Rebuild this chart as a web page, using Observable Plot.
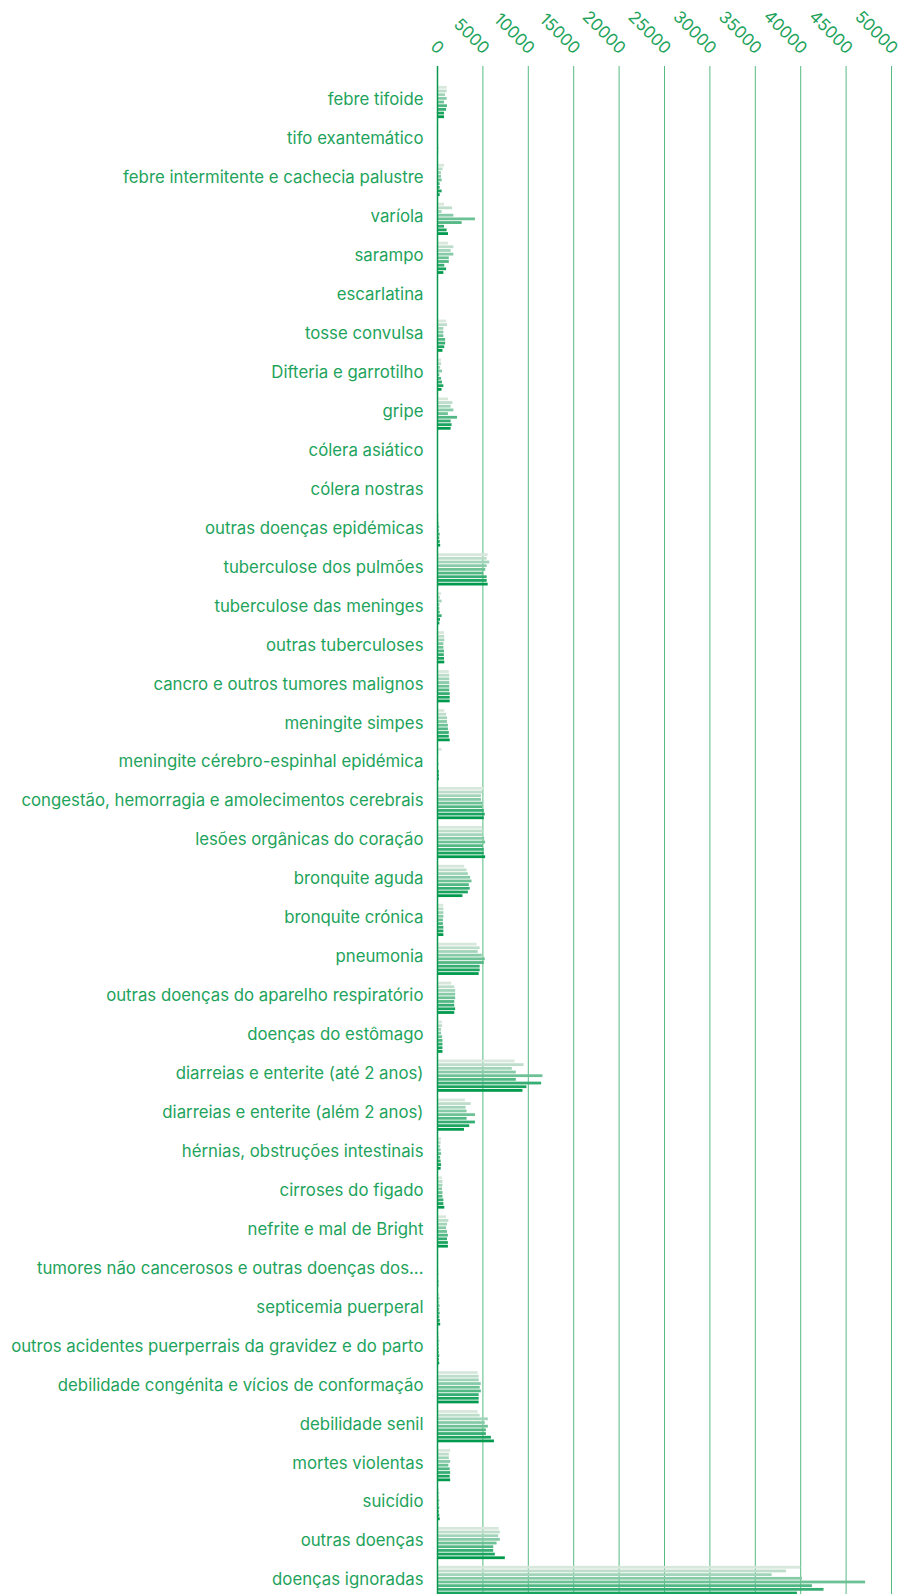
<!DOCTYPE html>
<html><head><meta charset="utf-8">
<script src="https://cdn.jsdelivr.net/npm/d3@7"></script>
<script src="https://cdn.jsdelivr.net/npm/@observablehq/plot@0.6"></script>
<style>body{margin:0;background:#fff;} #chart{width:901px}</style>
</head><body><div id="chart"></div>
<script>
const causes = [
  "febre tifoide",
  "tifo exantemático",
  "febre intermitente e cachecia palustre",
  "varíola",
  "sarampo",
  "escarlatina",
  "tosse convulsa",
  "Difteria e garrotilho",
  "gripe",
  "cólera asiático",
  "cólera nostras",
  "outras doenças epidémicas",
  "tuberculose dos pulmões",
  "tuberculose das meninges",
  "outras tuberculoses",
  "cancro e outros tumores malignos",
  "meningite simpes",
  "meningite cérebro-espinhal epidémica",
  "congestão, hemorragia e amolecimentos cerebrais",
  "lesões orgânicas do coração",
  "bronquite aguda",
  "bronquite crónica",
  "pneumonia",
  "outras doenças do aparelho respiratório",
  "doenças do estômago",
  "diarreias e enterite (até 2 anos)",
  "diarreias e enterite (além 2 anos)",
  "hérnias, obstruções intestinais",
  "cirroses do figado",
  "nefrite e mal de Bright",
  "tumores não cancerosos e outras doenças dos...",
  "septicemia puerperal",
  "outros acidentes puerperrais da gravidez e do parto",
  "debilidade congénita e vícios de conformação",
  "debilidade senil",
  "mortes violentas",
  "suicídio",
  "outras doenças",
  "doenças ignoradas"
];

const years = ["1902", "1903", "1904", "1905", "1906", "1907", "1908", "1909", "1910"];

// one row per cause, one value per year (same order as years)
const deathsByCause = [
  [1060, 1060, 880, 1060, 770, 1100, 1000, 770, 770],
  [150, 120, 100, 100, 100, 120, 130, 120, 100],
  [770, 620, 440, 440, 510, 290, 290, 510, 290],
  [770, 1650, 510, 1800, 4180, 2710, 770, 1060, 1210],
  [1200, 1800, 1500, 1800, 1300, 1300, 800, 1000, 700],
  [80, 60, 50, 80, 60, 50, 80, 60, 50],
  [1000, 1100, 700, 700, 700, 900, 900, 800, 600],
  [450, 450, 350, 550, 250, 450, 550, 700, 500],
  [1200, 1700, 1500, 1800, 1200, 2200, 1500, 1600, 1500],
  [0, 0, 0, 0, 0, 0, 0, 0, 0],
  [0, 0, 0, 0, 0, 0, 0, 0, 0],
  [200, 150, 200, 250, 200, 300, 250, 300, 350],
  [5580, 5470, 5760, 5470, 5320, 5100, 5470, 5470, 5580],
  [440, 330, 510, 260, 260, 300, 510, 330, 260],
  [770, 800, 800, 700, 700, 770, 750, 770, 800],
  [1300, 1350, 1350, 1350, 1350, 1350, 1400, 1400, 1400],
  [800, 1000, 1100, 1100, 1200, 1200, 1300, 1300, 1400],
  [500, 150, 100, 100, 150, 100, 200, 200, 200],
  [5100, 4980, 4840, 4840, 4980, 4980, 5150, 5250, 5150],
  [4950, 5050, 4950, 5200, 5300, 5050, 5150, 5150, 5300],
  [3000, 3250, 3400, 3650, 3800, 3500, 3600, 3400, 2800],
  [700, 700, 700, 700, 650, 650, 700, 700, 700],
  [4370, 4700, 4480, 4930, 5260, 5150, 4700, 4700, 4590],
  [1570, 1900, 2000, 2000, 2000, 1900, 1900, 2000, 1900],
  [560, 560, 450, 450, 560, 600, 600, 600, 600],
  [8540, 9530, 8240, 8680, 11610, 8680, 11470, 9850, 9410],
  [3080, 3700, 3150, 3260, 4180, 3260, 4180, 3550, 2970],
  [450, 400, 350, 400, 450, 350, 400, 450, 400],
  [550, 600, 600, 550, 600, 600, 700, 700, 800],
  [1000, 1250, 1100, 1000, 1100, 1200, 1100, 1200, 1200],
  [150, 120, 130, 120, 130, 140, 120, 150, 150],
  [250, 300, 250, 300, 250, 300, 250, 300, 350],
  [200, 200, 250, 200, 200, 200, 250, 200, 250],
  [4480, 4590, 4590, 4820, 4700, 4820, 4590, 4590, 4590],
  [4480, 4700, 5600, 5260, 5600, 5380, 5380, 5940, 6270],
  [1450, 1300, 1300, 1450, 1250, 1400, 1450, 1400, 1450],
  [200, 250, 200, 250, 200, 250, 200, 250, 300],
  [6800, 6920, 6740, 6920, 6560, 6190, 6190, 6370, 7470],
  [40000, 38430, 36850, 40190, 47150, 41290, 42570, 39640, 41000]
];

const xTicks = [0, 5000, 10000, 15000, 20000, 25000, 30000, 35000, 40000, 45000, 50000];

const data = causes.flatMap((cause, i) =>
  years.map((year, j) => ({cause, year, value: deathsByCause[i][j]}))
);

const width = 901, height = 1628;
const marginTop = 66, marginBottom = 10, marginLeft = 437, marginRight = 10;
const textColor = "#1ea35c";
const gridColor = "#55bb83";
const axisColor = "#08974c";
const fontSize = 16.8;

const yOpts = {domain: causes, paddingInner: 0.15, paddingOuter: 0.5};
const yScale = Plot.scale({y: {type: "band", ...yOpts, range: [marginTop, height - marginBottom]}});
const step = (height - marginTop - marginBottom) / (causes.length - yOpts.paddingInner + 2 * yOpts.paddingOuter);
const bandwidth = (yScale && yScale.bandwidth) || step * (1 - yOpts.paddingInner);
const unit = bandwidth / years.length;
const gap = 0.45;

const colors = d3.quantize(d3.interpolateRgb("#d8e7dc", "#009a4e"), years.length);

const bars = years.map((yr, j) =>
  Plot.barX(data.filter(d => d.year === yr), {
    x: "value",
    y: "cause",
    fill: "year",
    insetTop: j * unit + gap,
    insetBottom: (years.length - 1 - j) * unit + gap
  })
);

const hasAxisMark = typeof Plot.axisY === "function";
const yAxis = hasAxisMark
  ? [Plot.axisY({tickSize: 0, tickPadding: 14, dy: -2.5, fill: textColor, fontSize, label: null})]
  : [];

const chart = Plot.plot({
  width, height, marginTop, marginBottom, marginLeft, marginRight,
  style: {fontFamily: "Inter, 'Noto Sans', sans-serif", fontSize: fontSize + "px", color: textColor, background: "#fff", overflow: "visible"},
  x: {domain: [0, 50000], axis: null},
  y: {...yOpts, tickSize: 0, tickPadding: 14, label: null},
  color: {domain: years, range: colors},
  marks: [
    Plot.ruleX(xTicks, {stroke: gridColor, strokeWidth: 1}),
    ...bars,
    Plot.ruleX([0], {stroke: axisColor, strokeWidth: 1.5}),
    Plot.text(xTicks, {
      x: d => d,
      frameAnchor: "top",
      text: d => String(d),
      rotate: 45,
      textAnchor: "end",
      dx: 8,
      dy: -20,
      fill: textColor,
      fontSize
    }),
    ...yAxis
  ]
});
document.getElementById("chart").append(chart);
</script>
</body></html>
